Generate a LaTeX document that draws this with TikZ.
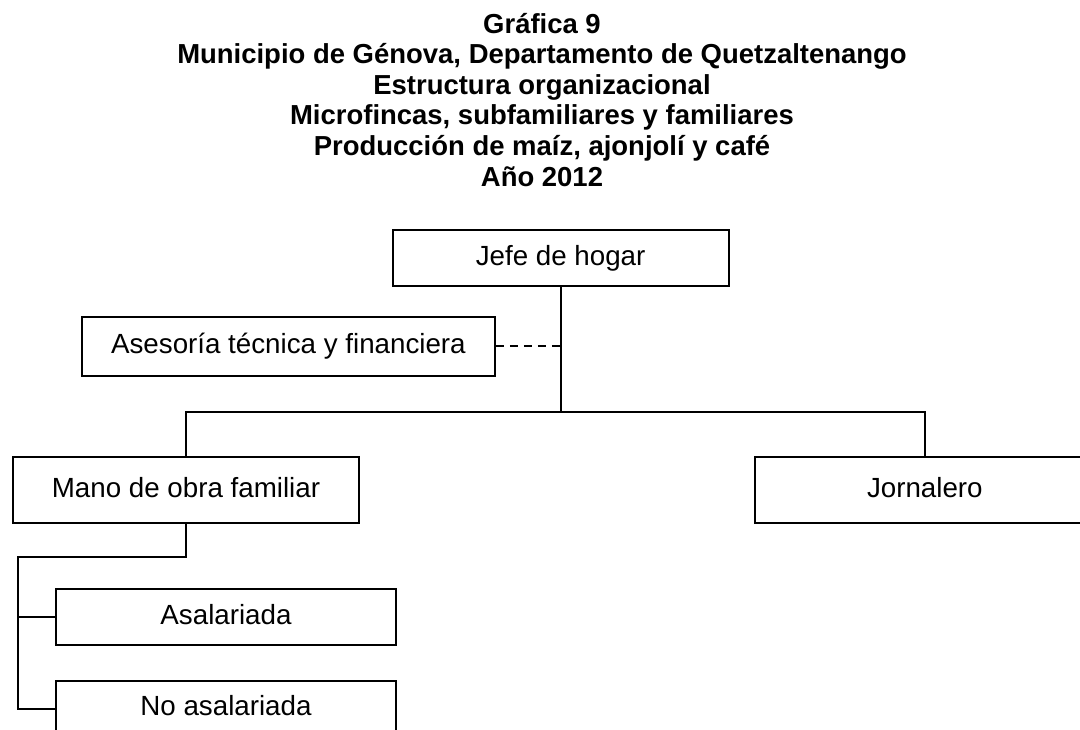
\documentclass[tikz,border=0pt]{standalone}
\usepackage{fontspec}
\setmainfont{Liberation Sans}
\usetikzlibrary{positioning}

\begin{document}
\begin{tikzpicture}[x=0.75pt, y=-0.75pt, line width=1.35pt, node distance={25.5pt},
		box/.style = {draw, rectangle, inner sep=0pt, text height=15pt, text depth=4.4pt, font=\fontsize{20.8}{24}\selectfont},
		title/.style = {align=center, inner sep=0pt, font=\fontsize{20.6}{22.95}\selectfont\bfseries}]
		\useasboundingbox (0,0) rectangle (1080,730);
		\clip (0,0) rectangle (1080,730);
		\node[title, anchor=north] (head) at (542,12) {Gráfica 9\\Municipio de Génova, Departamento de Quetzaltenango\\Estructura organizacional\\Microfincas, subfamiliares y familiares\\Producción de maíz, ajonjolí y café\\Año 2012};
		\node[box, minimum width=252pt, minimum height=42pt] (jefe) at (560.6,258) {Jefe de hogar};
		\node[box, minimum width=309.75pt, minimum height=44.25pt] (asesoria) at (288.4,346.2) {Asesoría técnica y financiera};
		\node[box, minimum width=259.5pt, minimum height=49.5pt] (mano) at (186,490) {Mano de obra familiar};
		\node[box, minimum width=255pt, minimum height=49.5pt] (jornal) [right=295.5pt of mano] {Jornalero};
		\node[box, minimum width=255pt, minimum height=42pt] (asal) at (226,617) {Asalariada};
		\node[box, minimum width=255pt, minimum height=42pt] (noasal) [below=of asal] {No asalariada};
		
		\coordinate (hub) at (jefe.south |- 0,412);
		\coordinate (split) at (18,557);
		
		\draw (jefe.south) -- (hub);
		\draw[dash pattern=on 6pt off 4.5pt] (asesoria.east) -- (asesoria.east -| hub);
		\draw (mano.north) |- (hub) -| (jornal.north);
		
		\draw (mano.south) |- (split) |- (noasal.west);
		\draw (split |- asal.west) -- (asal.west);
	\end{tikzpicture}
\end{document}
